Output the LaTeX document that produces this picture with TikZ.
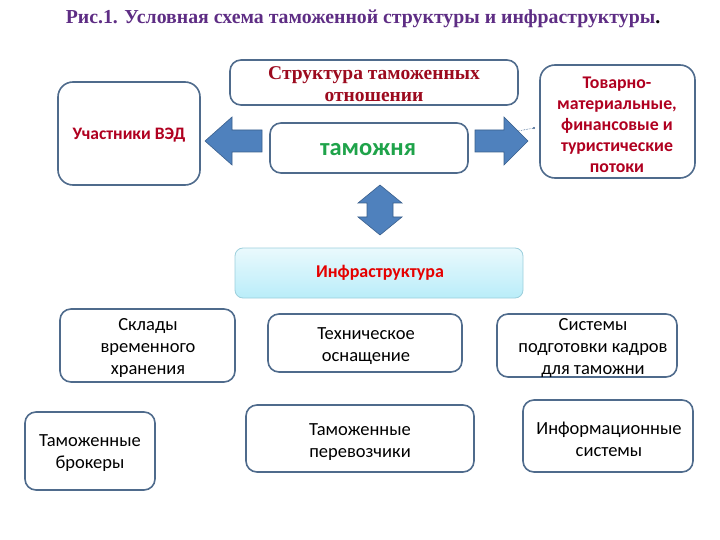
\documentclass[tikz,border=0pt]{standalone}
\usepackage{fontspec}
\setmainfont{Liberation Serif}
\newfontfamily\carlfont{Carlito}
\usetikzlibrary{shapes.arrows,calc}
\definecolor{bord}{HTML}{4F6B8C}
\definecolor{darkred}{HTML}{9C0A1E}
\definecolor{redtxt}{HTML}{B00020}
\definecolor{titlec}{HTML}{5E2D84}
\definecolor{arrfill}{HTML}{4F81BD}
\definecolor{arrdraw}{HTML}{3A5F8C}
\definecolor{greentxt}{HTML}{1FA34A}
\definecolor{cyantop}{HTML}{EAF9FD}
\definecolor{cyanbot}{HTML}{B9EDF9}
\definecolor{cyanbord}{HTML}{9CCFDC}
\tikzset{
  box/.style={draw=bord, line width=1.6pt, rounded corners=11pt, fill=white},
  boxtext/.style={font=\carlfont\fontsize{18.5}{22}\selectfont, align=center},
  bigarrow/.style={fill=arrfill, draw=arrdraw, line width=0.6pt, line join=miter},
}
\begin{document}
\begin{tikzpicture}[x=1pt,y=-1pt]
\useasboundingbox (0,0) rectangle (720,540);
% title
\node (title) at (363,19) {\fontsize{19.8}{22}\selectfont\bfseries\textcolor{titlec}{Рис.1. Условная схема таможенной структуры и инфраструктуры}.};
% structure box
\draw[box] (230,60) rectangle (518,105);
\node (str) at (374,84) [align=center, font=\fontsize{19.5}{21.5}\selectfont\bfseries, text=darkred] {Структура таможенных\\отношении};
% participants
\draw[box, rounded corners=15pt] (58,82) rectangle (200,185);
\node (ved) at (129,135) [font=\carlfont\bfseries\fontsize{17.5}{20}\selectfont, text=redtxt] {Участники ВЭД};
% customs
\draw[box] (270,123) rectangle (468,173);
\node (tam) at (368,150) [font=\carlfont\bfseries\fontsize{24.5}{27}\selectfont, text=greentxt] {таможня};
% goods
\draw[box, rounded corners=15pt] (540,65) rectangle (695,178);
\node (tov) at (617,125) [align=center, font=\carlfont\bfseries\fontsize{17.8}{21}\selectfont, text=redtxt] {Товарно-\\материальные,\\финансовые и\\туристические\\потоки};
% left arrow
\draw[bigarrow] (205,141) -- (232,117) -- (232,130) -- (262,130) -- (262,152) -- (232,152) -- (232,165) -- cycle;
% right arrow
\draw[bigarrow] (528,141) -- (504,117) -- (504,130) -- (475,130) -- (475,152) -- (504,152) -- (504,165) -- cycle;
\draw[arrdraw, densely dotted, line width=0.6pt] (518,131) -- (534,128);
\fill[arrdraw] (534,128) circle (1.2pt);
% vertical double arrow
\draw[bigarrow] (380,185) -- (402,203) -- (393,203) -- (393,217) -- (402,217) -- (380,235) -- (358,217) -- (367,217) -- (367,203) -- (358,203) -- cycle;
% infrastructure
\shade[top color=cyantop, bottom color=cyanbot, rounded corners=8pt] (235,248) rectangle (523,298);
\draw[draw=cyanbord, line width=0.8pt, rounded corners=8pt] (235,248) rectangle (523,298);
\node (inf) at (380,273) [font=\carlfont\bfseries\fontsize{18}{20}\selectfont, text=red!90!black] {Инфраструктура};
% lower boxes
\draw[box] (60,309) rectangle (235,382);
\node (skl) at (148,348) [boxtext] {Склады\\временного\\хранения};
\draw[box] (268,314) rectangle (462,372);
\node (teh) at (366,346) [boxtext] {Техническое\\оснащение};
\draw[box] (497,314) rectangle (677,377);
\node (sys) at (593,348) [boxtext] {Системы\\подготовки кадров\\для таможни};
\draw[box] (25,412) rectangle (155,490);
\node (brok) at (90,453) [boxtext] {Таможенные\\брокеры};
\draw[box] (246,405) rectangle (474,472);
\node (per) at (360,442) [boxtext] {Таможенные\\перевозчики};
\draw[box] (523,400) rectangle (693,472);
\node (info) at (609,439) [boxtext] {Информационные\\системы};
\end{tikzpicture}
\end{document}
